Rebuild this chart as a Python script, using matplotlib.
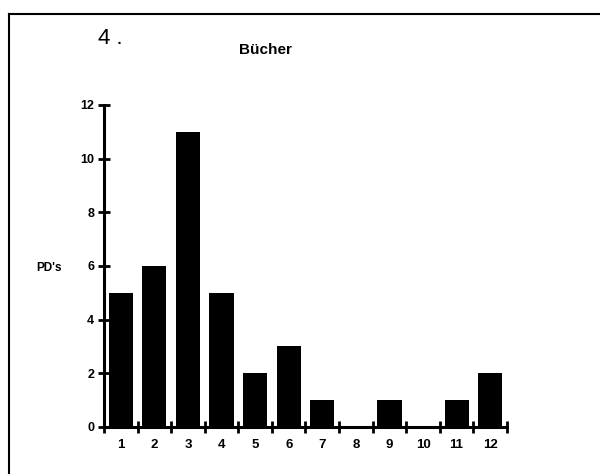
import numpy as np
import matplotlib.pyplot as plt
from matplotlib.lines import Line2D

# -------------------- DATA --------------------
months = ['1', '2', '3', '4', '5', '6', '7', '8', '9', '10', '11', '12']
pd_counts = [5, 6, 11, 5, 2, 3, 1, 0, 1, 0, 1, 2]
y_ticks = [0, 2, 4, 6, 8, 10, 12]

plt.rcParams['font.family'] = ['Liberation Sans', 'DejaVu Sans']

fig = plt.figure(figsize=(6, 4.74), dpi=100)
ax = fig.add_axes([0.1733, 0.0992, 0.6717, 0.6793])

x = np.arange(len(months))
ax.bar(x, pd_counts, width=0.72, color='black', align='center')

ax.set_xlim(-0.5, len(months) - 0.5)
ax.set_ylim(0, 12)

# ticks on the boundaries, labels on the centres
ax.set_xticks(np.arange(len(months) + 1) - 0.5)
ax.set_xticklabels([])
ax.set_xticks(x, minor=True)
ax.set_xticklabels(months, minor=True, fontsize=9.5, fontweight='bold')
ax.tick_params(axis='x', which='minor', length=0, pad=9)
ax.tick_params(axis='x', which='major', direction='inout', length=8, width=2)

ax.set_yticks(y_ticks)
ax.set_yticklabels([str(v) for v in y_ticks], fontsize=9, fontweight='bold')
ax.tick_params(axis='y', direction='inout', length=8, width=2, pad=3)

for side in ['top', 'right']:
    ax.spines[side].set_visible(False)
for side in ['left', 'bottom']:
    ax.spines[side].set_linewidth(2.2)

# labels
fig.text(36 / 600, 1 - 268 / 474, "PD's", fontsize=8.5, fontweight='bold',
         va='center', ha='left')
fig.text(0.442, 1 - 50 / 474, 'Bücher', fontsize=11, fontweight='bold',
         va='center', ha='center')
fig.text(0.163, 1 - 38 / 474, '4 .', fontsize=16, va='center', ha='left')

# frame lines (top and left edge of the scanned page)
fig.add_artist(Line2D([9 / 600, 1.0], [1 - 14 / 474, 1 - 14 / 474],
                      transform=fig.transFigure, color='black', lw=1.5))
fig.add_artist(Line2D([9 / 600, 9 / 600], [0.0, 1 - 14 / 474],
                      transform=fig.transFigure, color='black', lw=1.5))

fig.savefig('out.png', dpi=100)
